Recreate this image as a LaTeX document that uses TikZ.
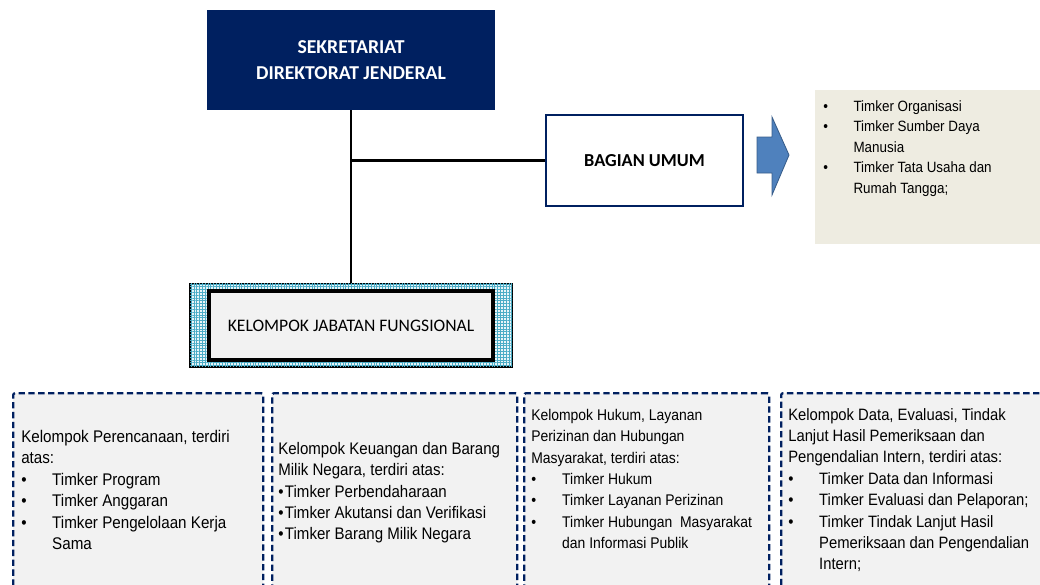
\documentclass[tikz,border=0pt]{standalone}
\usepackage{fontspec}
\setmainfont{Liberation Sans}[FakeStretch=0.9]
\newfontfamily\calibri{Carlito}
\usetikzlibrary{patterns.meta}
\definecolor{navy}{HTML}{002060}
\definecolor{beige}{HTML}{EEECE1}
\definecolor{lightgrey}{HTML}{F2F2F2}
\definecolor{arrowblue}{HTML}{4F81BD}
\definecolor{arrowedge}{HTML}{385D8A}
\definecolor{hatch}{HTML}{4BACC6}
\newcommand{\bul}[2][22pt]{\makebox[#1][l]{\textbullet}#2}
\newcommand{\cont}[2][22pt]{\hspace*{#1}#2}

\begin{document}
\begin{tikzpicture}[x=0.025cm, y=-0.025cm,
    headbox/.style={fill=navy, text=white, align=center, minimum width=7.2cm, minimum height=2.5cm,
      font=\calibri\bfseries\fontsize{14}{18.5}\selectfont},
    unitbox/.style={draw=navy, line width=1.8pt, fill=white, minimum width=4.925cm, minimum height=2.275cm,
      font=\calibri\bfseries\fontsize{13}{16}\selectfont},
    grpbox/.style={draw=navy, line width=1.6pt, dash pattern=on 4.5pt off 2.5pt, fill=lightgrey,
      rounded corners=1.5pt, anchor=north west, minimum width=6.25cm, minimum height=5.5cm},
    grptext/.style={anchor=north west, inner sep=0pt, align=left, font=\fontsize{11}{15.2}\selectfont},
    link/.style={line width=2pt}]
  \clip (0,0) rectangle (1040,585);

  \node[headbox] (sekret) at (351,60) {SEKRETARIAT\\DIREKTORAT JENDERAL};
  \node[unitbox] (bu) at (644.5,160.5) {BAGIAN UMUM};

  \node[draw=black, line width=1.2pt, fill=hatch!12, minimum width=8.05cm, minimum height=2.075cm,
    postaction={pattern={Lines[angle=0,distance=2pt,line width=0.7pt]}, pattern color=hatch},
    postaction={pattern={Lines[angle=90,distance=2pt,line width=0.7pt]}, pattern color=hatch}]
    (kjfout) at (351,325.5) {};
  \node[draw=black, line width=2.4pt, fill=lightgrey, minimum width=7.1cm, minimum height=1.725cm,
    font=\calibri\fontsize{12.5}{15}\selectfont] (kjf) at (351,325.5) {KELOMPOK JABATAN FUNGSIONAL};

  \draw[link] (sekret.south) -- (kjfout.north);
  \coordinate (jn) at (sekret.south |- bu.west);
  \draw[link] (jn) -- (bu.west);

  \fill[arrowblue, draw=arrowedge, line width=0.6pt]
    (757,137) -- (772,137) -- (772,117) -- (789,155) -- (772,195) -- (772,173) -- (757,173) -- cycle;

  \node[fill=beige, anchor=north west, minimum width=6cm, minimum height=3.85cm] (umum) at (815,90) {};
  \node[grptext, font=\fontsize{10.6}{14.6}\selectfont] (umumtx) at (823,100)
    {\bul[21.5pt]{Timker Organisasi}\\ \bul[21.5pt]{Timker Sumber Daya}\\ \cont[21.5pt]{Manusia}\\
     \bul[21.5pt]{Timker Tata Usaha dan}\\ \cont[21.5pt]{Rumah Tangga;}};

  \node[grpbox] (g1) at (12,392) {};
  \node[grpbox, minimum width=6.125cm] (g2) at (271,392) {};
  \node[grpbox, minimum width=6.125cm] (g3) at (523,392) {};
  \node[grpbox, minimum width=7cm] (g4) at (780,392) {};

  \node[grptext, font=\fontsize{12}{15.2}\selectfont] (g1tx) at (21,430)
    {Kelompok Perencanaan, terdiri\\ atas:\\ \bul{Timker Program}\\ \bul{Timker Anggaran}\\
     \bul{Timker Pengelolaan Kerja}\\ \cont{Sama}};
  \node[grptext, font=\fontsize{11.9}{15.2}\selectfont] (g2tx) at (278,442)
    {Kelompok Keuangan dan Barang\\ Milik Negara, terdiri atas:\\ \textbullet\hspace{1pt}Timker Perbendaharaan\\
     \textbullet\hspace{1pt}Timker Akutansi dan Verifikasi\\ \textbullet\hspace{1pt}Timker Barang Milik Negara};
  \node[grptext] (g3tx) at (531,409)
    {Kelompok Hukum, Layanan\\ Perizinan dan Hubungan\\ Masyarakat, terdiri atas:\\ \bul{Timker Hukum}\\
     \bul{Timker Layanan Perizinan}\\ \bul{Timker Hubungan\ \ Masyarakat}\\ \cont{dan Informasi Publik}};
  \node[grptext, font=\fontsize{11.7}{15.2}\selectfont] (g4tx) at (788,408)
    {Kelompok Data, Evaluasi, Tindak\\ Lanjut Hasil Pemeriksaan dan\\ Pengendalian Intern, terdiri atas:\\
     \bul{Timker Data dan Informasi}\\ \bul{Timker Evaluasi dan Pelaporan;}\\ \bul{Timker Tindak Lanjut Hasil}\\
     \cont{Pemeriksaan dan Pengendalian}\\ \cont{Intern;}};
\end{tikzpicture}
\end{document}
